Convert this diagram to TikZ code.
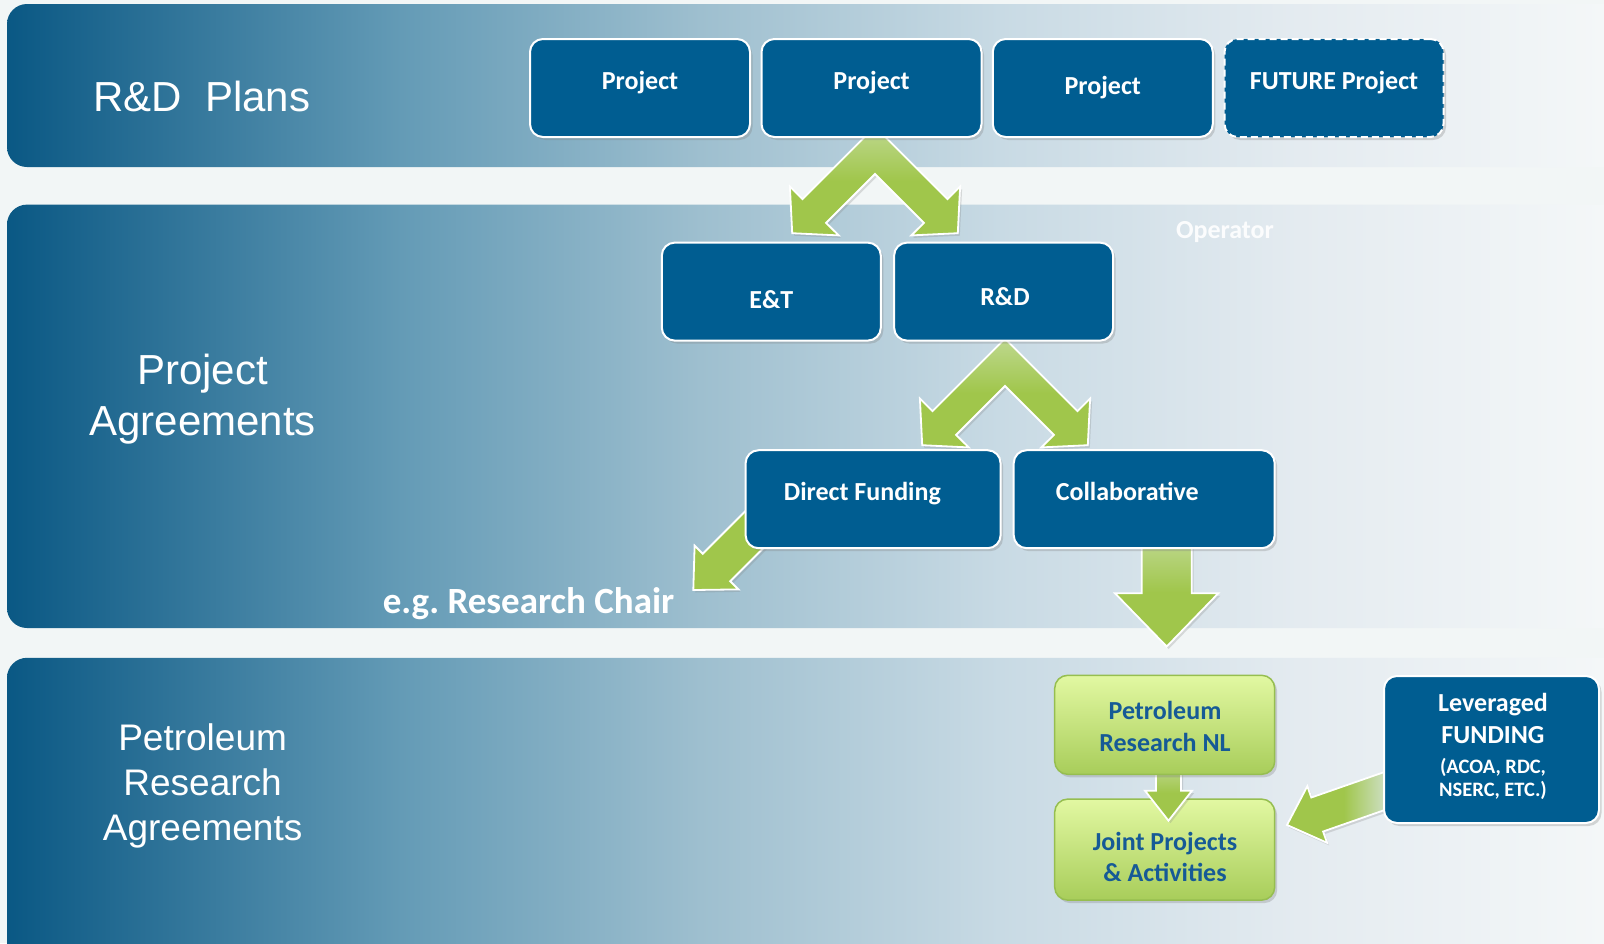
\documentclass[tikz,border=0pt]{standalone}
\usepackage{fontspec}
\setmainfont{Liberation Sans}
\newfontfamily\carl{Carlito}
\usetikzlibrary{shadows}
\frenchspacing
\definecolor{pagebg}{RGB}{242,246,246}
\definecolor{bzero}{RGB}{10,88,132}
\definecolor{bone}{RGB}{100,155,182}
\definecolor{btwo}{RGB}{158,191,207}
\definecolor{bthree}{RGB}{200,218,228}
\definecolor{bfour}{RGB}{228,235,240}
\definecolor{bfive}{RGB}{244,247,248}
\definecolor{boxblue}{RGB}{0,93,145}
\definecolor{agreen}{RGB}{160,198,75}
\definecolor{alight}{RGB}{190,216,142}
\definecolor{gtop}{RGB}{226,248,162}
\definecolor{gbot}{RGB}{168,205,90}
\definecolor{gborder}{RGB}{150,190,80}
\definecolor{gtextc}{RGB}{22,90,150}
\definecolor{fadebg}{RGB}{222,232,238}
\pgfdeclarehorizontalshading{bandshade}{100bp}{color(0bp)=(bzero); color(25bp)=(bzero); color(37bp)=(bone); color(46.1bp)=(btwo); color(55.2bp)=(bthree); color(64.3bp)=(bfour); color(73.6bp)=(bfive); color(100bp)=(bfive)}
\tikzset{
  bluebox/.style={rectangle, rounded corners=13pt, fill=boxblue, draw=white, line width=2pt, inner sep=0pt,
    drop shadow={shadow xshift=2.5pt, shadow yshift=-3pt, opacity=0.3}},
  greenbox/.style={rectangle, rounded corners=13pt, top color=gtop, bottom color=gbot, draw=gborder, line width=1.5pt, inner sep=0pt,
    drop shadow={shadow xshift=2.5pt, shadow yshift=-3pt, opacity=0.3}},
  btext/.style={font=\carl\bfseries\fontsize{26}{31}\selectfont, text=white, anchor=base, inner sep=0pt},
  gtext/.style={font=\carl\bfseries\fontsize{26}{31}\selectfont, text=gtextc, anchor=base, inner sep=0pt},
  stext/.style={font=\carl\bfseries\fontsize{20.5}{24}\selectfont, text=white, anchor=base, inner sep=0pt},
  headA/.style={font=\fontsize{42}{51}\selectfont, text=white, anchor=base, inner sep=0pt},
  headB/.style={font=\fontsize{37}{45}\selectfont, text=white, anchor=base, inner sep=0pt},
  arrowbase/.style={draw=white, line width=1.8pt, line join=miter,
    drop shadow={shadow xshift=2pt, shadow yshift=-2.5pt, opacity=0.25}},
  arrowdown/.style={arrowbase, top color=alight, bottom color=agreen, middle color=agreen},
  arrowflat/.style={arrowbase, fill=agreen}
}
\newcommand{\chevron}[2]{%
  \path[arrowdown, shift={(#1,#2)}]
    (0,0) -- (-72.5,72.5) -- (-85.1,59.9) -- (-82.8,106.5) -- (-36.3,108.7) -- (-48.9,96.2)
    -- (0,47.3) -- (48.9,96.2) -- (36.3,108.7) -- (82.8,106.5) -- (85.1,59.9) -- (72.5,72.5) -- cycle;}
\begin{document}
\begin{tikzpicture}[x=1pt,y=-1pt]
\useasboundingbox (0,0) rectangle (1604,943);
\clip (0,0) rectangle (1604,943);
\fill[pagebg] (0,0) rectangle (1604,943);
% bands
\shade[shading=bandshade, rounded corners=20pt] (7,4) rectangle (1650,167);
\shade[shading=bandshade, rounded corners=20pt] (7,204.6) rectangle (1650,628);
\shade[shading=bandshade, rounded corners=20pt] (7,657.8) rectangle (1650,990);
% band titles
\node[headA, anchor=base west] (plans) at (93,111) {R\&D\ \ Plans};
\node[headA] (pa1) at (202.6,384.3) {Project};
\node[headA] (pa2) at (202.6,435.3) {Agreements};
\node[headB] (pr1) at (202.6,750.8) {Petroleum};
\node[headB] (pr2) at (202.6,795.8) {Research};
\node[headB] (pr3) at (202.6,840.8) {Agreements};
% arrows under boxes
\chevron{875}{126.7}
\chevron{1005}{338.7}
\path[arrowflat] (758.25,498.25) -- (702.75,553.75) -- (694.6,545.6) -- (693.3,590)
  -- (738.4,589.4) -- (730.25,581.25) -- (785.75,525.75) -- cycle;
\path[arrowdown] (1141.7,538) -- (1141.7,593.3) -- (1115,593.3) -- (1166.7,646.5)
  -- (1218.3,593.3) -- (1191.7,593.3) -- (1191.7,538) -- cycle;
% top row
\node[bluebox, minimum width=220pt, minimum height=98pt] (p1) at (640,88) {};
\node[bluebox, minimum width=220pt, minimum height=98pt] (p2) at (871.5,88) {};
\node[bluebox, minimum width=220pt, minimum height=98pt] (p3) at (1102.8,88) {};
\node[bluebox, minimum width=219pt, minimum height=98pt, dash pattern=on 7pt off 4pt] (fut) at (1334,88) {};
\node[btext] (tp1) at (640,89.3) {Project};
\node[btext] (tp2) at (871.6,89.3) {Project};
\node[btext] (tp3) at (1102.8,94.4) {Project};
\node[btext] (tfut) at (1334,89.3) {FUTURE Project};
% second row
\node[bluebox, minimum width=219pt, minimum height=98pt] (et) at (771.3,291.6) {};
\node[bluebox, minimum width=219pt, minimum height=98pt] (rd) at (1003.6,291.6) {};
\node[btext] (tet) at (771.3,308) {E\&T};
\node[btext] (trd) at (1005,305) {R\&D};
\node[btext, text opacity=0.9] (op) at (1225,238.3) {Operator};
% third row
\node[bluebox, minimum width=255pt, minimum height=98pt] (df) at (873.1,499.2) {};
\node[bluebox, minimum width=261pt, minimum height=98pt] (col) at (1144.2,499.2) {};
\node[btext] (tdf) at (862.4,500.5) {Direct Funding};
\node[btext] (tcol) at (1127.3,500.5) {Collaborative};
\node[btext, font=\carl\bfseries\fontsize{37}{44}\selectfont, anchor=base west] (chair) at (382.6,613.5) {e.g. Research Chair};
% petroleum research
\node[greenbox, minimum width=220pt, minimum height=101pt] (g2) at (1164.7,849.6) {};
\path[arrowdown] (1156,765) -- (1156,790.7) -- (1145,790.7) -- (1168.5,820.7)
  -- (1192,790.7) -- (1181,790.7) -- (1181,765) -- cycle;
\node[greenbox, minimum width=220pt, minimum height=99pt] (g1) at (1164.7,724.8) {};
\node[gtext] (tg1a) at (1165,719.5) {Petroleum};
\node[gtext] (tg1b) at (1165,751) {Research NL};
\node[gtext] (tg2a) at (1165,850) {Joint Projects};
\node[gtext] (tg2b) at (1165,881.5) {\& Activities};
% leveraged funding
\path[arrowbase, left color=agreen, right color=fadebg, middle color=agreen]
  (1388.7,770.5) -- (1311.3,797.5) -- (1307.3,786.2) -- (1287,825)
  -- (1327.1,842.8) -- (1323.1,831.5) -- (1400.5,804.5) -- cycle;
\node[bluebox, minimum width=215pt, minimum height=147pt] (lev) at (1491.5,749.5) {};
\node[btext] (tl1) at (1493,711.7) {Leveraged};
\node[btext] (tl2) at (1493,743.3) {FUNDING};
\node[stext] (tl3) at (1493,773.3) {(ACOA, RDC,};
\node[stext] (tl4) at (1493,796.7) {NSERC, ETC.)};
\end{tikzpicture}
\end{document}
